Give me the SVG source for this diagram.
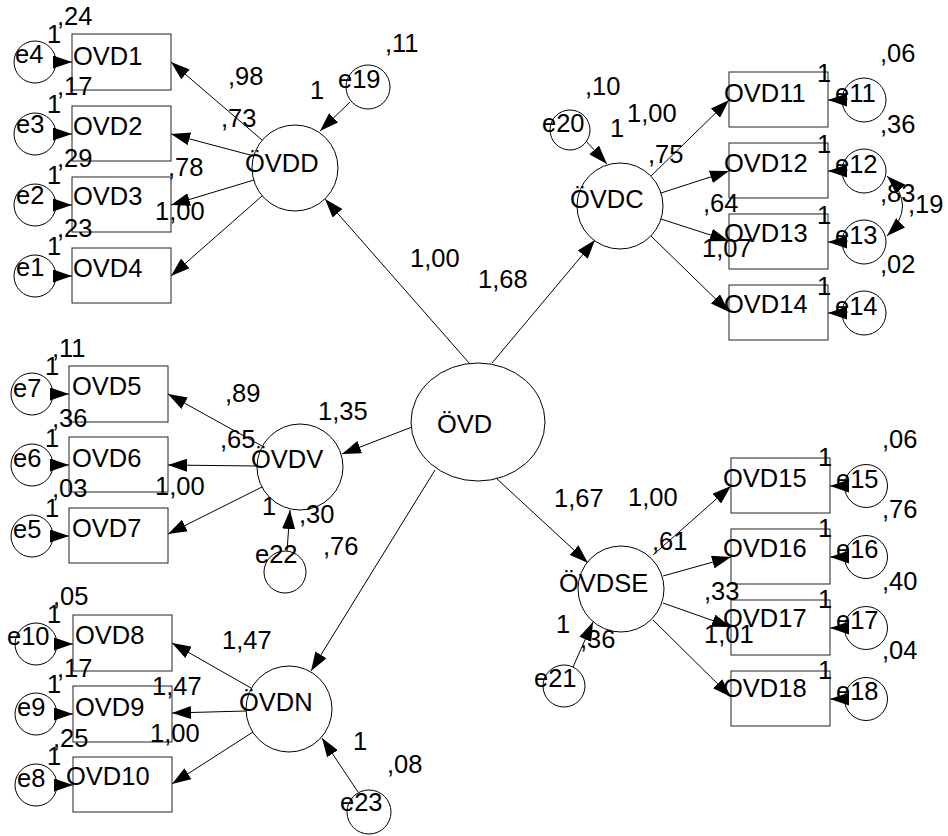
<svg xmlns="http://www.w3.org/2000/svg" width="948" height="836" viewBox="0 0 948 836">
<style>
text{font-family:"Liberation Sans",Arial,sans-serif;font-size:25.5px;fill:#000}
.n{fill:none;stroke:#000;stroke-width:1}
.b{fill:none;stroke:#222;stroke-width:1}
.a{fill:none;stroke:#000;stroke-width:1;marker-end:url(#ah)}
.cv{fill:none;stroke:#000;stroke-width:1;marker-start:url(#ah2);marker-end:url(#ah2)}
</style>
<defs>
<marker id="ah" viewBox="0 0 19 13" refX="19" refY="6.5" markerWidth="19" markerHeight="13" markerUnits="userSpaceOnUse" orient="auto"><path d="M0,0 L19,6.5 L0,13 z" fill="#000"/></marker>
<marker id="ah2" viewBox="0 0 19 13" refX="19" refY="6.5" markerWidth="19" markerHeight="13" markerUnits="userSpaceOnUse" orient="auto-start-reverse"><path d="M0,0 L19,6.5 L0,13 z" fill="#000"/></marker>
</defs>
<rect width="948" height="836" fill="#fff"/>
<g id="connectors">
<line class="a" x1="470" y1="364" x2="325" y2="199"/>
<line class="a" x1="492" y1="363" x2="595" y2="240"/>
<line class="a" x1="412" y1="427" x2="342" y2="454"/>
<line class="a" x1="435" y1="470" x2="311" y2="671"/>
<line class="a" x1="496" y1="478" x2="588" y2="563"/>
<line class="a" x1="262" y1="140" x2="171" y2="62"/>
<line class="a" x1="254" y1="156" x2="171" y2="134"/>
<line class="a" x1="254" y1="180" x2="171" y2="205"/>
<line class="a" x1="262" y1="196" x2="171" y2="276"/>
<line class="a" x1="56" y1="62" x2="72" y2="62"/>
<line class="a" x1="56" y1="134" x2="72" y2="134"/>
<line class="a" x1="56" y1="205" x2="72" y2="205"/>
<line class="a" x1="56" y1="276" x2="72" y2="276"/>
<line class="a" x1="350" y1="102" x2="320" y2="131"/>
<line class="a" x1="651" y1="176" x2="729" y2="100"/>
<line class="a" x1="661" y1="193" x2="729" y2="171"/>
<line class="a" x1="661" y1="219" x2="729" y2="241"/>
<line class="a" x1="651" y1="236" x2="729" y2="312"/>
<line class="a" x1="842" y1="100" x2="828" y2="100"/>
<line class="a" x1="842" y1="171" x2="828" y2="171"/>
<line class="a" x1="842" y1="242" x2="828" y2="242"/>
<line class="a" x1="842" y1="313" x2="828" y2="313"/>
<line class="a" x1="586" y1="141" x2="607" y2="164"/>
<path class="cv" d="M887,176 Q918,206 887,236"/>
<line class="a" x1="653" y1="555" x2="731" y2="486"/>
<line class="a" x1="663" y1="576" x2="731" y2="557"/>
<line class="a" x1="663" y1="603" x2="731" y2="627"/>
<line class="a" x1="653" y1="620" x2="731" y2="697"/>
<line class="a" x1="844" y1="486" x2="830" y2="486"/>
<line class="a" x1="844" y1="557" x2="830" y2="557"/>
<line class="a" x1="844" y1="628" x2="830" y2="628"/>
<line class="a" x1="844" y1="699" x2="830" y2="699"/>
<line class="a" x1="573" y1="667" x2="593" y2="622"/>
<line class="a" x1="262" y1="446" x2="168" y2="394"/>
<line class="a" x1="257" y1="466" x2="168" y2="465"/>
<line class="a" x1="262" y1="487" x2="168" y2="534"/>
<line class="a" x1="53" y1="394" x2="69" y2="394"/>
<line class="a" x1="53" y1="465" x2="69" y2="465"/>
<line class="a" x1="53" y1="536" x2="69" y2="536"/>
<line class="a" x1="287" y1="551" x2="290" y2="510"/>
<line class="a" x1="251" y1="688" x2="172" y2="643"/>
<line class="a" x1="246" y1="711" x2="172" y2="713"/>
<line class="a" x1="253" y1="732" x2="172" y2="784"/>
<line class="a" x1="57" y1="644" x2="73" y2="644"/>
<line class="a" x1="57" y1="714" x2="73" y2="714"/>
<line class="a" x1="57" y1="785" x2="73" y2="785"/>
<line class="a" x1="358" y1="792" x2="322" y2="738"/>
</g>
<g id="OVD"><ellipse class="n" cx="478" cy="422" rx="67" ry="59"/><text x="437" y="433">ÖVD</text></g>
<g id="OVDD"><circle class="n" cx="295" cy="168" r="43"/><text x="245" y="172">ÖVDD</text></g>
<g id="e19"><circle class="n" cx="368" cy="87" r="22"/><text x="338" y="88">e19</text></g>
<g id="OVD1"><rect class="b" x="72" y="34" width="99" height="56"/><text x="73" y="65">OVD1</text></g>
<g id="OVD2"><rect class="b" x="72" y="106" width="99" height="55"/><text x="73" y="135">OVD2</text></g>
<g id="OVD3"><rect class="b" x="72" y="177" width="99" height="55"/><text x="73" y="205">OVD3</text></g>
<g id="OVD4"><rect class="b" x="72" y="248" width="99" height="55"/><text x="73" y="277">OVD4</text></g>
<g id="e4"><circle class="n" cx="35" cy="62" r="21"/><text x="15" y="63">e4</text></g>
<g id="e3"><circle class="n" cx="35" cy="134" r="21"/><text x="16" y="133">e3</text></g>
<g id="e2"><circle class="n" cx="35" cy="205" r="21"/><text x="16" y="204">e2</text></g>
<g id="e1"><circle class="n" cx="35" cy="276" r="21"/><text x="16" y="276">e1</text></g>
<g id="OVDC"><circle class="n" cx="620" cy="206" r="43"/><text x="570" y="208">ÖVDC</text></g>
<g id="e20"><circle class="n" cx="570" cy="130" r="20"/><text x="542" y="132">e20</text></g>
<g id="OVD11"><rect class="b" x="729" y="72" width="99" height="55"/><text x="724" y="102">OVD11</text></g>
<g id="OVD12"><rect class="b" x="729" y="143" width="99" height="55"/><text x="724" y="172">OVD12</text></g>
<g id="OVD13"><rect class="b" x="729" y="214" width="99" height="55"/><text x="724" y="242">OVD13</text></g>
<g id="OVD14"><rect class="b" x="729" y="285" width="99" height="55"/><text x="724" y="313">OVD14</text></g>
<g id="e11"><circle class="n" cx="864" cy="100" r="22"/><text x="835" y="102">e11</text></g>
<g id="e12"><circle class="n" cx="864" cy="171" r="22"/><text x="835" y="173">e12</text></g>
<g id="e13"><circle class="n" cx="864" cy="242" r="22"/><text x="835" y="244">e13</text></g>
<g id="e14"><circle class="n" cx="864" cy="313" r="22"/><text x="835" y="315">e14</text></g>
<g id="OVDV"><circle class="n" cx="300" cy="467" r="43"/><text x="251" y="468">ÖVDV</text></g>
<g id="e22"><circle class="n" cx="285" cy="572" r="21"/><text x="255" y="563">e22</text></g>
<g id="OVD5"><rect class="b" x="69" y="366" width="99" height="56"/><text x="72" y="395">OVD5</text></g>
<g id="OVD6"><rect class="b" x="69" y="437" width="99" height="55"/><text x="72" y="467">OVD6</text></g>
<g id="OVD7"><rect class="b" x="69" y="508" width="99" height="55"/><text x="72" y="537">OVD7</text></g>
<g id="e7"><circle class="n" cx="32" cy="394" r="21"/><text x="13" y="397">e7</text></g>
<g id="e6"><circle class="n" cx="32" cy="465" r="21"/><text x="13" y="467">e6</text></g>
<g id="e5"><circle class="n" cx="32" cy="536" r="21"/><text x="13" y="538">e5</text></g>
<g id="OVDSE"><circle class="n" cx="621" cy="589" r="43"/><text x="559" y="592">ÖVDSE</text></g>
<g id="e21"><circle class="n" cx="564" cy="686" r="21"/><text x="534" y="687">e21</text></g>
<g id="OVD15"><rect class="b" x="731" y="458" width="99" height="55"/><text x="723" y="487">OVD15</text></g>
<g id="OVD16"><rect class="b" x="731" y="529" width="99" height="55"/><text x="723" y="557">OVD16</text></g>
<g id="OVD17"><rect class="b" x="731" y="600" width="99" height="55"/><text x="723" y="627">OVD17</text></g>
<g id="OVD18"><rect class="b" x="731" y="671" width="99" height="55"/><text x="723" y="697">OVD18</text></g>
<g id="e15"><circle class="n" cx="866" cy="486" r="21.5"/><text x="836" y="488">e15</text></g>
<g id="e16"><circle class="n" cx="866" cy="557" r="21.5"/><text x="836" y="558">e16</text></g>
<g id="e17"><circle class="n" cx="866" cy="628" r="21.5"/><text x="836" y="629">e17</text></g>
<g id="e18"><circle class="n" cx="866" cy="699" r="21.5"/><text x="836" y="700">e18</text></g>
<g id="OVDN"><circle class="n" cx="289" cy="709" r="43"/><text x="239" y="711">ÖVDN</text></g>
<g id="e23"><circle class="n" cx="369" cy="812" r="22"/><text x="340" y="811">e23</text></g>
<g id="OVD8"><rect class="b" x="73" y="615" width="99" height="56"/><text x="75" y="644">OVD8</text></g>
<g id="OVD9"><rect class="b" x="73" y="686" width="99" height="56"/><text x="75" y="716">OVD9</text></g>
<g id="OVD10"><rect class="b" x="73" y="757" width="99" height="55"/><text x="66" y="785">OVD10</text></g>
<g id="e10"><circle class="n" cx="36" cy="644" r="21"/><text x="7" y="645">e10</text></g>
<g id="e9"><circle class="n" cx="36" cy="714" r="21"/><text x="17" y="716">e9</text></g>
<g id="e8"><circle class="n" cx="36" cy="785" r="21"/><text x="17" y="787">e8</text></g>
<g id="labels">
<text x="57" y="25">,24</text><text x="47" y="43">1</text>
<text x="57" y="95">,17</text><text x="47" y="113">1</text>
<text x="57" y="167">,29</text><text x="47" y="184">1</text>
<text x="57" y="237">,23</text><text x="47" y="255">1</text>
<text x="228" y="85">,98</text><text x="221" y="127">,73</text><text x="168" y="176">,78</text><text x="155" y="220">1,00</text>
<text x="385" y="52">,11</text><text x="310" y="99">1</text>
<text x="410" y="267">1,00</text><text x="478" y="288">1,68</text>
<text x="585" y="95">,10</text><text x="610" y="137">1</text><text x="627" y="122">1,00</text><text x="648" y="163">,75</text><text x="703" y="212">,64</text><text x="702" y="257">1,07</text>
<text x="817" y="82">1</text><text x="817" y="153">1</text><text x="817" y="224">1</text><text x="817" y="295">1</text>
<text x="880" y="62">,06</text><text x="880" y="133">,36</text><text x="880" y="202">,83</text><text x="908" y="213">,19</text><text x="880" y="273">,02</text>
<text x="554" y="507">1,67</text><text x="628" y="506">1,00</text><text x="652" y="550">,61</text><text x="704" y="600">,33</text><text x="704" y="643">1,01</text>
<text x="556" y="633">1</text><text x="580" y="648">,36</text>
<text x="818" y="466">1</text><text x="818" y="537">1</text><text x="818" y="608">1</text><text x="818" y="679">1</text>
<text x="882" y="448">,06</text><text x="882" y="518">,76</text><text x="882" y="590">,40</text><text x="882" y="659">,04</text>
<text x="52" y="357">,11</text><text x="45" y="375">1</text><text x="52" y="427">,36</text><text x="45" y="447">1</text><text x="52" y="497">,03</text><text x="45" y="517">1</text>
<text x="225" y="402">,89</text><text x="220" y="448">,65</text><text x="155" y="495">1,00</text><text x="318" y="420">1,35</text>
<text x="262" y="515">1</text><text x="299" y="523">,30</text><text x="323" y="555">,76</text>
<text x="53" y="605">,05</text><text x="47" y="623">1</text><text x="57" y="677">,17</text><text x="47" y="693">1</text><text x="53" y="747">,25</text><text x="47" y="765">1</text>
<text x="222" y="649">1,47</text><text x="152" y="695">1,47</text><text x="150" y="742">1,00</text>
<text x="353" y="750">1</text><text x="387" y="773">,08</text>
</g>
</svg>
